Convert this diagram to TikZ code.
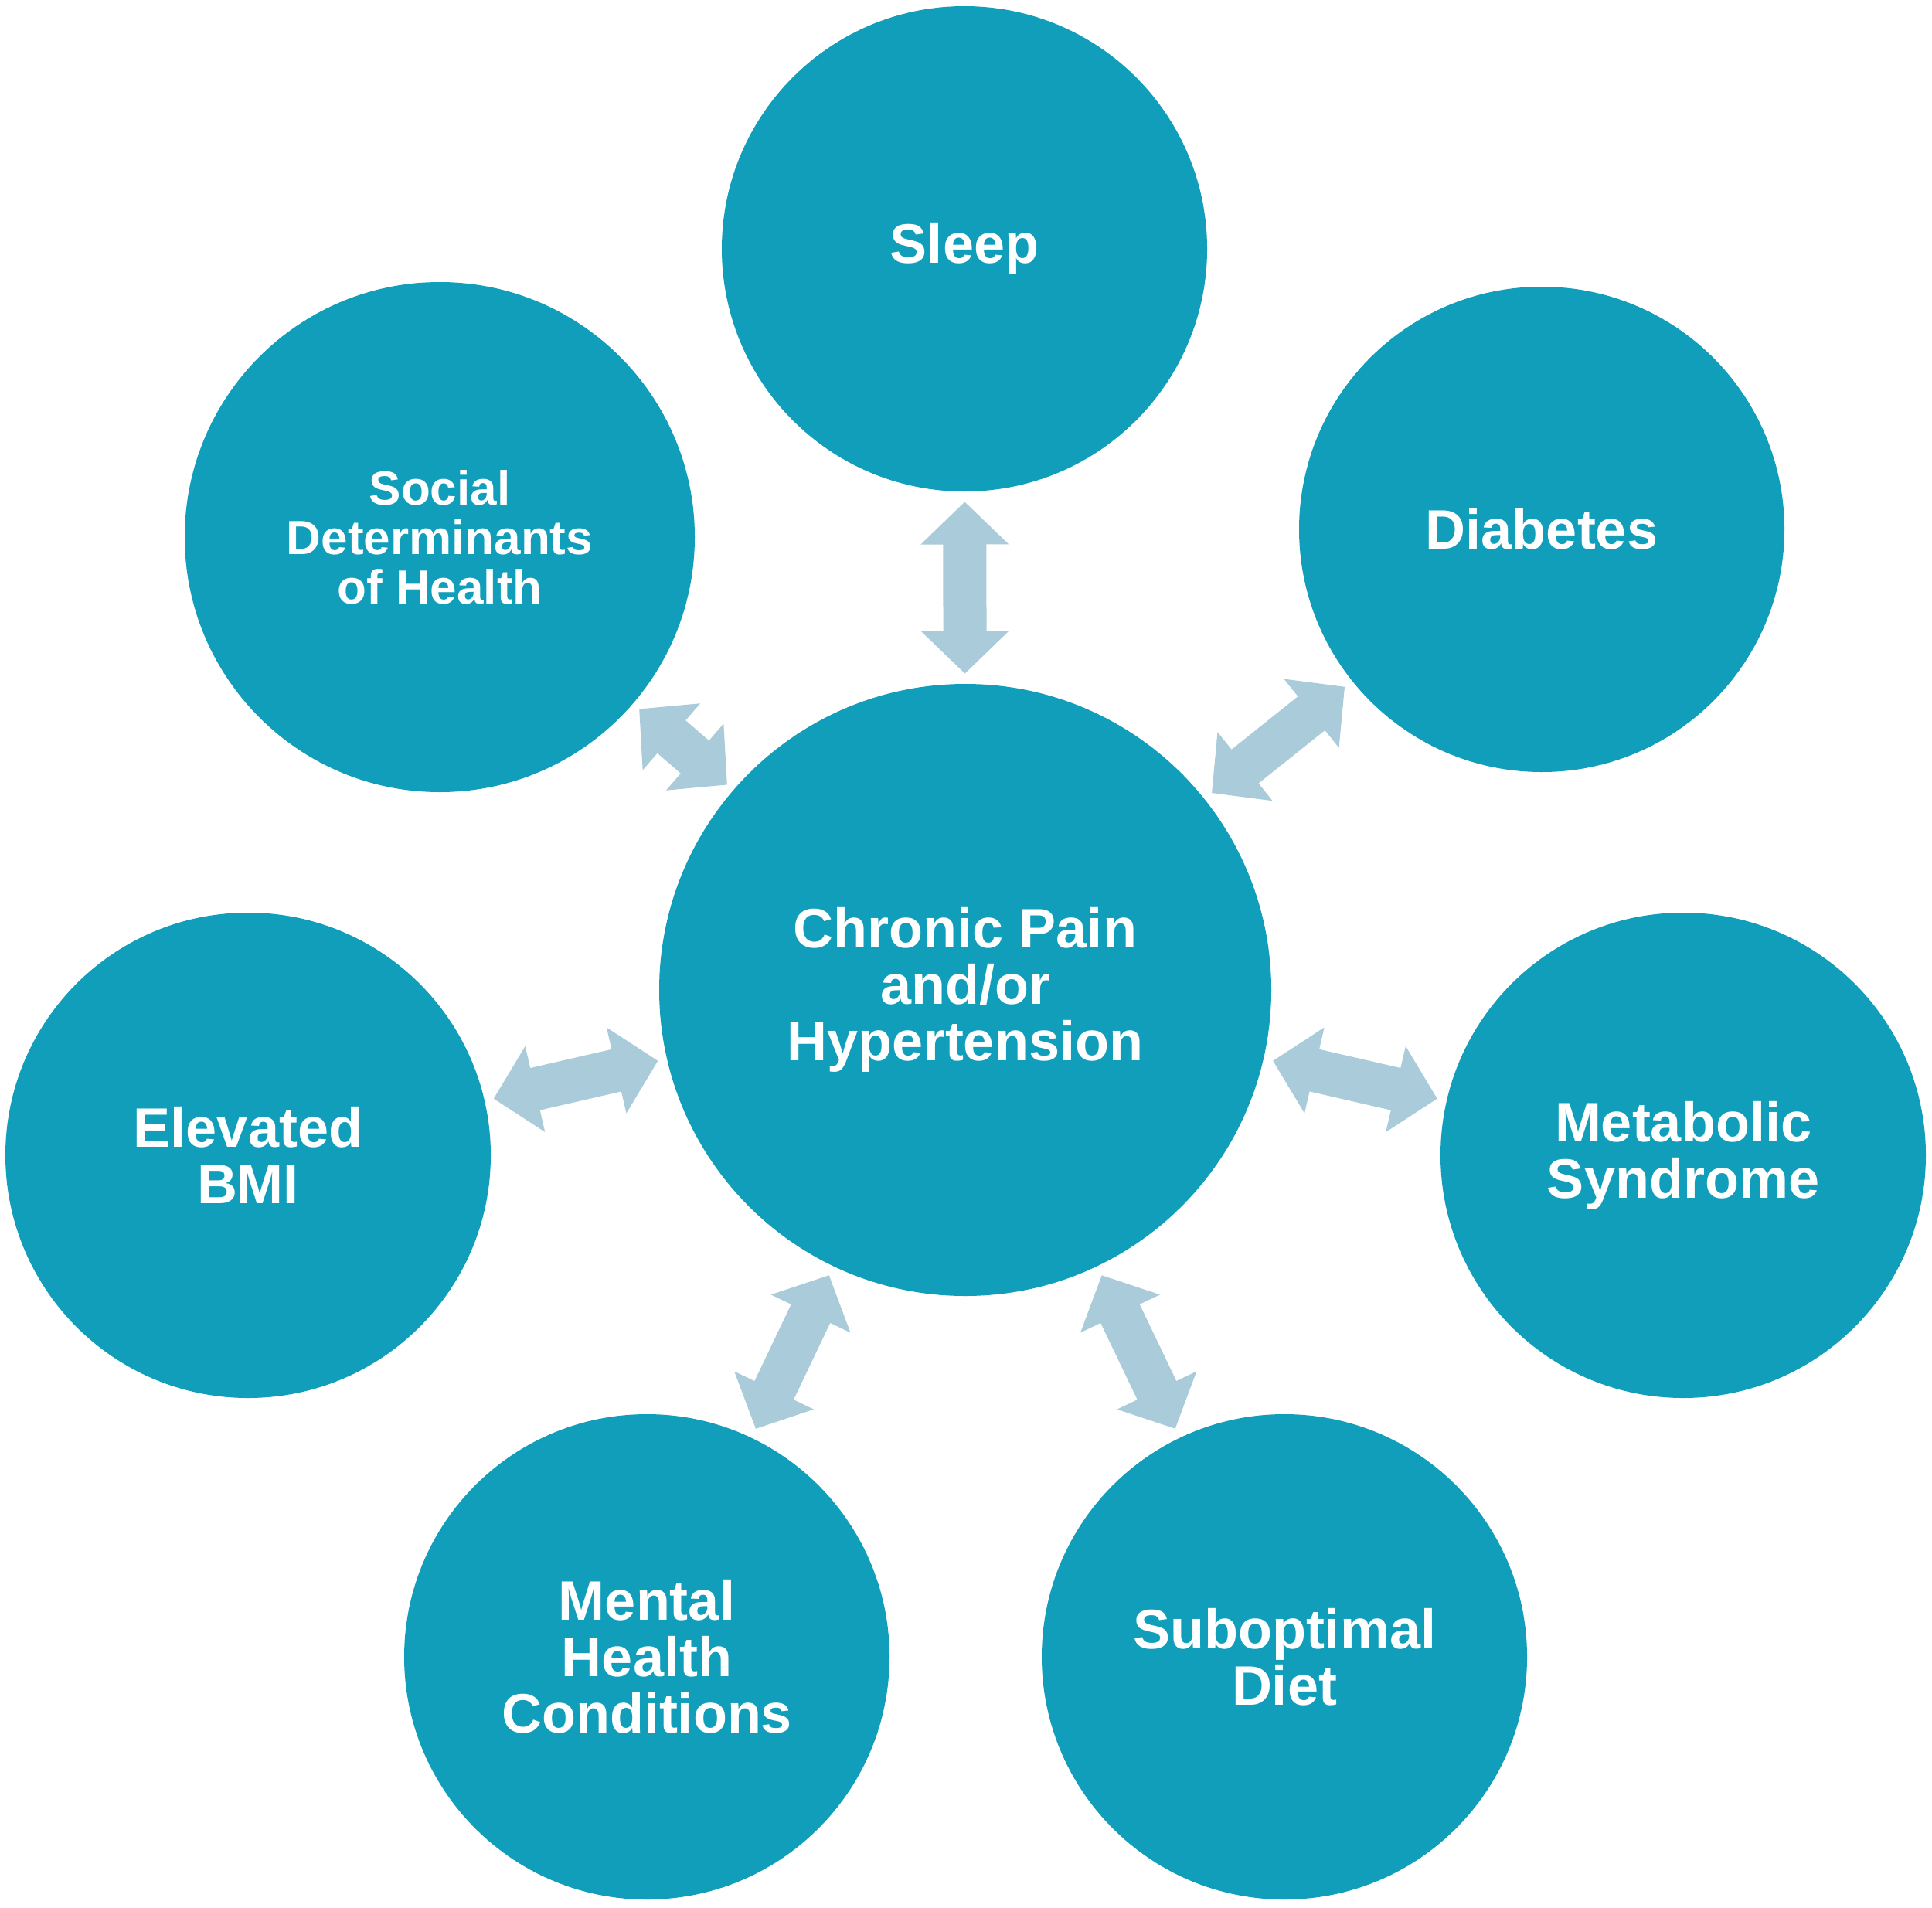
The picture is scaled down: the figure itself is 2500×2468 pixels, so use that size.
\documentclass[tikz,border=0pt]{standalone}
\usepackage{fontspec}
\setmainfont{Liberation Sans}
\usetikzlibrary{calc}
\definecolor{bubblefill}{HTML}{109EBA}
\definecolor{arrowfill}{HTML}{AACCDA}
\newcommand\linkarrow[4]{% #1 from, #2 to, #3 name, #4 half length
  \path (#1) -- coordinate (#3) (#2);
  \pgfmathsetmacro\hl{#4}%
  \pgfmathsetmacro\hb{#4-55}%
  \coordinate (#3-b1) at ($(#3)!\hb pt!(#2)$);
  \coordinate (#3-b2) at ($(#3)!\hb pt!(#1)$);
  \fill[arrowfill]
    ($(#3)!\hl pt!(#2)$)
    -- ($(#3-b1)!57pt!90:(#2)$) -- ($(#3-b1)!28pt!90:(#2)$)
    -- ($(#3-b2)!28pt!90:(#2)$) -- ($(#3-b2)!57pt!90:(#2)$)
    -- ($(#3)!\hl pt!(#1)$)
    -- ($(#3-b2)!57pt!-90:(#2)$) -- ($(#3-b2)!28pt!-90:(#2)$)
    -- ($(#3-b1)!28pt!-90:(#2)$) -- ($(#3-b1)!57pt!-90:(#2)$)
    -- cycle;
}
\begin{document}
\begin{tikzpicture}[x=1pt,y=-1pt,
  bubble/.style={circle, fill=bubblefill, inner sep=0pt, outer sep=0pt,
    minimum size=628pt, text=white, align=center,
    font=\fontsize{72}{73}\selectfont\bfseries}]
\useasboundingbox (0,0) rectangle (2500,2468);
\fill[white] (0,0) rectangle (2500,2468);

\node[bubble, minimum size=792pt] (core) at (1249,1281) {Chronic Pain\\and/or\\Hypertension};
\node[bubble] (sleep) at (1248,322) {Sleep};
\node[bubble] (diab) at (1995,685) {Diabetes};
\node[bubble, minimum size=660pt, font=\fontsize{62}{64}\selectfont\bfseries] (social) at (569,695) {Social\\Determinants\\of Health};
\node[bubble] (bmi) at (321,1495) {Elevated\\BMI};
\node[bubble] (metab) at (2178,1495) {Metabolic\\Syndrome};
\node[bubble] (mental) at (837,2144) {Mental\\Health\\Conditions};
\node[bubble] (diet) at (1662,2144) {Suboptimal\\Diet};

\linkarrow{core}{sleep}{a1}{111}
\linkarrow{core}{diab}{a2}{110}
\linkarrow{core}{social}{a3}{75}
\linkarrow{core}{bmi}{a4}{109}
\linkarrow{core}{metab}{a5}{109}
\linkarrow{core}{mental}{a6}{110}
\linkarrow{core}{diet}{a7}{110}
\end{tikzpicture}
\end{document}
